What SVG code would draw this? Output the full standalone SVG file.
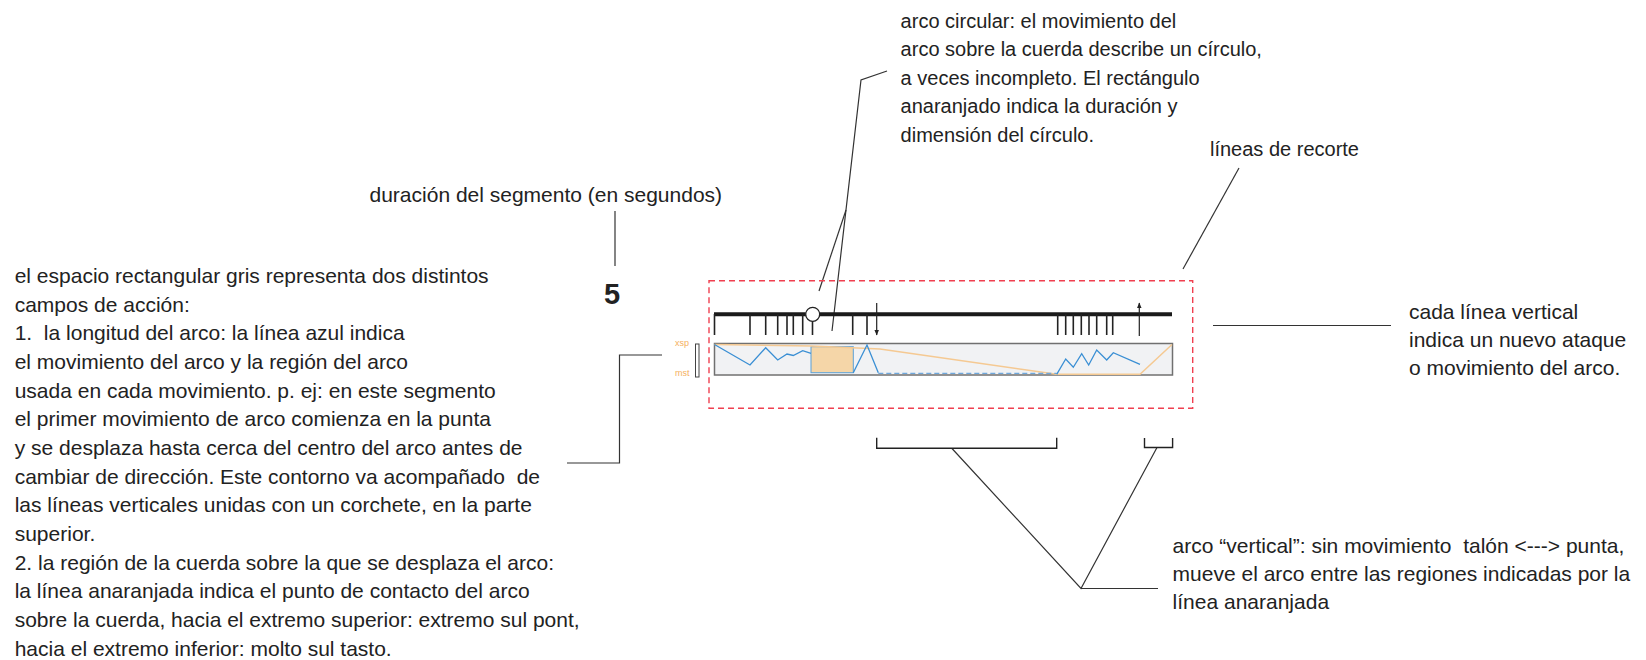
<svg xmlns="http://www.w3.org/2000/svg" width="1646" height="660" viewBox="0 0 1646 660">
<style>
  text { font-family: "Liberation Sans", Arial, sans-serif; fill: #222; white-space: pre; }
  .t { font-size: 20px; }
  .tl { font-size: 21px; }
  .lead { fill: none; stroke: #333; stroke-width: 1.2; }
  .brk { fill: none; stroke: #222; stroke-width: 1.4; }
  .tick { stroke: #222; stroke-width: 1.6; }
  .lab { font-size: 9px; fill: #f5b060; }
</style>
<defs>
  <marker id="ah" viewBox="0 0 10 10" refX="9" refY="5" markerWidth="5" markerHeight="5" orient="auto">
    <path d="M0,1 L10,5 L0,9 z" fill="#222"/>
  </marker>
</defs>
<rect width="1646" height="660" fill="#fff"/>

<g id="connectors">
  <polyline class="lead" points="887,71 861,80 832,331"/>
  <line class="lead" x1="846" y1="210" x2="819" y2="291"/>
  <line class="lead" x1="615" y1="211" x2="615" y2="266"/>
  <polyline class="lead" points="567,463 619.5,463 619.5,355 662,355"/>
  <line class="lead" x1="1239" y1="168" x2="1183" y2="269"/>
  <line class="lead" x1="1213" y1="325.5" x2="1391" y2="325.5"/>
  <polyline class="lead" points="952,448.5 1081,588.5 1157,447.5"/>
  <line class="lead" x1="1081" y1="588.5" x2="1158" y2="588.5"/>
</g>

<g id="diagram">
  <rect x="709" y="280.7" width="483.7" height="127.6" fill="none" stroke="#f04050" stroke-width="1.4" stroke-dasharray="6 4"/>
  <line x1="714" y1="314.3" x2="1172" y2="314.3" stroke="#1a1a1a" stroke-width="4"/>
  <g class="tick">
    <line x1="714.5" y1="314" x2="714.5" y2="335"/>
    <line x1="750" y1="314" x2="750" y2="335"/>
    <line x1="765.7" y1="314" x2="765.7" y2="335"/>
    <line x1="777.7" y1="314" x2="777.7" y2="335"/>
    <line x1="787" y1="314" x2="787" y2="335"/>
    <line x1="793.3" y1="314" x2="793.3" y2="335"/>
    <line x1="802.7" y1="314" x2="802.7" y2="335"/>
    <line x1="812.5" y1="320" x2="812.5" y2="335"/>
    <line x1="852.7" y1="314" x2="852.7" y2="335"/>
    <line x1="867" y1="314" x2="867" y2="335"/>
    <line x1="1057.7" y1="314" x2="1057.7" y2="335"/>
    <line x1="1065.7" y1="314" x2="1065.7" y2="335"/>
    <line x1="1073.3" y1="314" x2="1073.3" y2="335"/>
    <line x1="1081.3" y1="314" x2="1081.3" y2="335"/>
    <line x1="1089" y1="314" x2="1089" y2="335"/>
    <line x1="1096.7" y1="314" x2="1096.7" y2="335"/>
    <line x1="1106.7" y1="314" x2="1106.7" y2="335"/>
    <line x1="1112.7" y1="314" x2="1112.7" y2="335"/>
  </g>
  <line x1="876.7" y1="303" x2="876.7" y2="335" stroke="#222" stroke-width="1.2" marker-end="url(#ah)"/>
  <line x1="1139.3" y1="336" x2="1139.3" y2="303" stroke="#222" stroke-width="1.2" marker-end="url(#ah)"/>
  <circle cx="812.7" cy="314.3" r="7" fill="#fff" stroke="#222" stroke-width="1.3"/>

  <rect x="714.5" y="343.5" width="458" height="31.5" fill="#f1f2f4" stroke="#707070" stroke-width="1.5"/>
  <rect x="811" y="346.7" width="42.3" height="26" fill="#f5d6a8" stroke="#5aa0d8" stroke-width="1"/>
  <polyline fill="none" stroke="#f5c992" stroke-width="1.5" points="714.5,344.5 811.7,346 863,348.3 880,349 1056.7,374.3 1140,374.3 1172,344.5"/>
  <polyline fill="none" stroke="#3a8fd4" stroke-width="1.3" points="714.5,344.5 750,365 765.7,347.7 777.7,360 787,354 793.3,355.5 802.7,350.7 811,353.3"/>
  <polyline fill="none" stroke="#3a8fd4" stroke-width="1.3" points="853.3,372.7 867,345 878.3,372.7"/>
  <line x1="878.3" y1="373.3" x2="1056.7" y2="373.3" stroke="#6fa8dc" stroke-width="1.3" stroke-dasharray="5 3"/>
  <polyline fill="none" stroke="#3a8fd4" stroke-width="1.3" points="1056.7,374.3 1065.7,359 1073.3,367.3 1081.7,353.7 1088.7,365 1096.7,350 1106.7,360 1113.3,352.7 1140,364.3"/>
  <text class="lab" x="675" y="346">xsp</text>
  <text class="lab" x="675" y="376">mst</text>
  <rect x="695.5" y="344" width="3.5" height="33" fill="none" stroke="#444" stroke-width="1"/>
</g>

<g id="brackets">
  <path class="brk" d="M876.7,437.7 V448.3 H1056.7 V437.7"/>
  <path class="brk" d="M1144.5,438 V447.5 H1172.6 V438"/>
</g>

<g id="n-duracion">
  <text class="tl" x="369.5" y="202">duración del segmento (en segundos)</text>
  <text x="604" y="304" style="font-size:29px;font-weight:bold">5</text>
</g>

<g id="n-circular">
  <text class="t" x="900.6" y="28">arco circular: el movimiento del</text>
  <text class="t" x="900.6" y="56">arco sobre la cuerda describe un círculo,</text>
  <text class="t" x="900.6" y="85">a veces incompleto. El rectángulo</text>
  <text class="t" x="900.6" y="113">anaranjado indica la duración y</text>
  <text class="t" x="900.6" y="142">dimensión del círculo.</text>
</g>

<g id="n-recorte">
  <text class="t" x="1210" y="156">líneas de recorte</text>
</g>

<g id="n-vertical">
  <text class="tl" x="1409" y="319">cada línea vertical</text>
  <text class="tl" x="1409" y="347">indica un nuevo ataque</text>
  <text class="tl" x="1409" y="375">o movimiento del arco.</text>
</g>

<g id="n-gris">
  <text class="tl" x="14.7" y="283">el espacio rectangular gris representa dos distintos</text>
  <text class="tl" x="14.7" y="311.7">campos de acción:</text>
  <text class="tl" x="14.7" y="340.3">1.  la longitud del arco: la línea azul indica</text>
  <text class="tl" x="14.7" y="369">el movimiento del arco y la región del arco</text>
  <text class="tl" x="14.7" y="397.6">usada en cada movimiento. p. ej: en este segmento</text>
  <text class="tl" x="14.7" y="426.3">el primer movimiento de arco comienza en la punta</text>
  <text class="tl" x="14.7" y="455">y se desplaza hasta cerca del centro del arco antes de</text>
  <text class="tl" x="14.7" y="483.6">cambiar de dirección. Este contorno va acompañado  de</text>
  <text class="tl" x="14.7" y="512.3">las líneas verticales unidas con un corchete, en la parte</text>
  <text class="tl" x="14.7" y="541">superior.</text>
  <text class="tl" x="14.7" y="569.6">2. la región de la cuerda sobre la que se desplaza el arco:</text>
  <text class="tl" x="14.7" y="598.3">la línea anaranjada indica el punto de contacto del arco</text>
  <text class="tl" x="14.7" y="627">sobre la cuerda, hacia el extremo superior: extremo sul pont,</text>
  <text class="tl" x="14.7" y="655.6">hacia el extremo inferior: molto sul tasto.</text>
</g>

<g id="n-arco-vertical">
  <text class="tl" x="1172.6" y="553">arco “vertical”: sin movimiento  talón &lt;---&gt; punta,</text>
  <text class="tl" x="1172.6" y="581">mueve el arco entre las regiones indicadas por la</text>
  <text class="tl" x="1172.6" y="609">línea anaranjada</text>
</g>
</svg>
